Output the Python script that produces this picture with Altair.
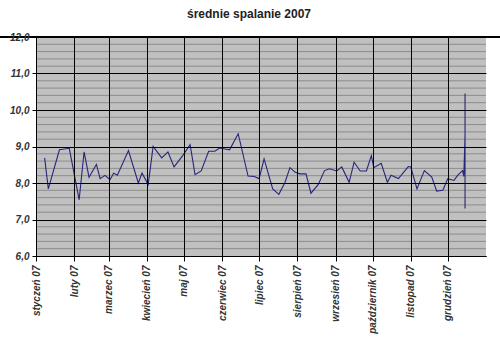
import json
import altair as alt
import pandas as pd

dates = [
    "2007-01-08", "2007-01-11", "2007-01-20", "2007-01-28", "2007-02-05", "2007-02-09",
    "2007-02-13", "2007-02-19", "2007-02-22", "2007-02-26", "2007-03-02", "2007-03-05",
    "2007-03-08", "2007-03-17", "2007-03-25", "2007-03-28", "2007-04-02", "2007-04-06",
    "2007-04-13", "2007-04-18", "2007-04-23", "2007-04-30", "2007-05-06", "2007-05-10",
    "2007-05-15", "2007-05-21", "2007-05-26", "2007-05-30", "2007-06-07", "2007-06-14",
    "2007-06-22", "2007-06-27", "2007-07-01", "2007-07-05", "2007-07-12", "2007-07-17",
    "2007-07-22", "2007-07-26", "2007-07-30", "2007-08-03", "2007-08-08", "2007-08-12",
    "2007-08-18", "2007-08-23", "2007-08-27", "2007-09-02", "2007-09-06", "2007-09-12",
    "2007-09-16", "2007-09-21", "2007-09-26", "2007-09-30", "2007-10-02", "2007-10-08",
    "2007-10-13", "2007-10-16", "2007-10-22", "2007-10-30", "2007-11-01", "2007-11-06",
    "2007-11-12", "2007-11-18", "2007-11-22", "2007-11-27", "2007-12-01", "2007-12-06",
    "2007-12-09", "2007-12-13", "2007-12-14", "2007-12-15", "2007-12-15", "2007-12-15",
]
values = [
    8.69, 7.84, 8.91, 8.95, 7.54, 8.85,
    8.16, 8.51, 8.12, 8.21, 8.09, 8.27,
    8.21, 8.89, 8.00, 8.27, 7.96, 9.00,
    8.69, 8.85, 8.44, 8.75, 9.05, 8.23,
    8.33, 8.87, 8.87, 8.96, 8.91, 9.35,
    8.19, 8.18, 8.12, 8.66, 7.84, 7.69,
    8.02, 8.42, 8.30, 8.25, 8.25, 7.72,
    7.96, 8.34, 8.39, 8.33, 8.44, 8.02,
    8.57, 8.33, 8.33, 8.75, 8.42, 8.54,
    8.02, 8.21, 8.12, 8.45, 8.44, 7.84,
    8.34, 8.16, 7.78, 7.80, 8.12, 8.07,
    8.21, 8.34, 8.18, 9.30, 10.45, 7.30,
]
month_labels = [
    "styczeń 07", "luty 07", "marzec 07", "kwiecień 07", "maj 07", "czerwiec 07",
    "lipiec 07", "sierpień 07", "wrzesień 07", "październik 07", "listopad 07", "grudzień 07",
]
major_ticks = [6, 7, 8, 9, 10, 11, 12]
minor_ticks = [round(6 + 0.2 * i, 1) for i in range(31) if i % 5 != 0]

df = pd.DataFrame({"data": dates, "spalanie": values, "kolejnosc": list(range(len(values)))})
minor_df = pd.DataFrame({"poziom": minor_ticks})

FONT = "Liberation Sans"
label_expr_x = json.dumps(month_labels, ensure_ascii=False) + "[utcmonth(datum.value)]"
month_starts = [alt.DateTime(year=2007, month=m, date=1, utc=True) for m in range(1, 13)]

y_scale = alt.Scale(domain=[6, 12], nice=False, zero=False)

x_enc = alt.X(
    "data:T",
    scale=alt.Scale(
        type="utc",
        domain=[alt.DateTime(year=2007, month=1, date=1, utc=True),
                alt.DateTime(year=2008, month=1, date=1, utc=True)],
    ),
    axis=alt.Axis(
        title=None,
        values=month_starts,
        tickCount=40,
        labelExpr=label_expr_x,
        labelAngle=270,
        labelAlign="right",
        labelBaseline="middle",
        labelFont=FONT,
        labelFontSize=10,
        labelFontWeight="bold",
        labelFontStyle="italic",
        labelColor="#333333",
        labelPadding=4,
        labelOverlap=False,
        labelBound=False,
        labelFlush=False,
        grid=True,
        gridColor="#000000",
        gridWidth=1,
        domainColor="#000000",
        tickColor="#000000",
        tickSize=5,
        zindex=1,
    ),
)

y_enc = alt.Y(
    "spalanie:Q",
    scale=y_scale,
    axis=alt.Axis(
        title=None,
        values=major_ticks,
        tickCount=20,
        labelExpr="replace(format(datum.value, '.1f'), '.', ',')",
        labelFont=FONT,
        labelFontSize=10,
        labelFontWeight="bold",
        labelFontStyle="italic",
        labelColor="#333333",
        labelPadding=3,
        labelOverlap=False,
        grid=True,
        gridColor="#000000",
        gridWidth=1,
        tickColor="#000000",
        tickSize=4,
        domainColor="#000000",
        zindex=1,
    ),
)

minor = alt.Chart(minor_df).mark_rule(color="#8c8c8c", strokeWidth=1).encode(
    y=alt.Y("poziom:Q", scale=y_scale),
)

line = alt.Chart(df).mark_line(color="#26267a", strokeWidth=1.1).encode(
    x=x_enc,
    y=y_enc,
    order="kolejnosc:Q",
)

top_rule = alt.Chart(df).mark_rule(color="#000000", strokeWidth=1).encode(
    y=alt.datum(12),
    x=alt.value(-36),
    x2=alt.value(464),
)

chart = alt.layer(minor, line, top_rule).properties(
    width=450,
    height=219,
    title=alt.TitleParams(
        "średnie spalanie 2007",
        font=FONT,
        fontSize=12,
        fontWeight="bold",
        color="#222222",
        anchor="middle",
        dx=-12,
        offset=11,
    ),
    autosize=alt.AutoSizeParams(type="none"),
    padding={"left": 36, "top": 37, "right": 14, "bottom": 101},
).configure_view(
    fill="#c0c0c0",
    stroke=None,
)

chart.save("out.html", embed_options={"renderer": "svg", "actions": False})
